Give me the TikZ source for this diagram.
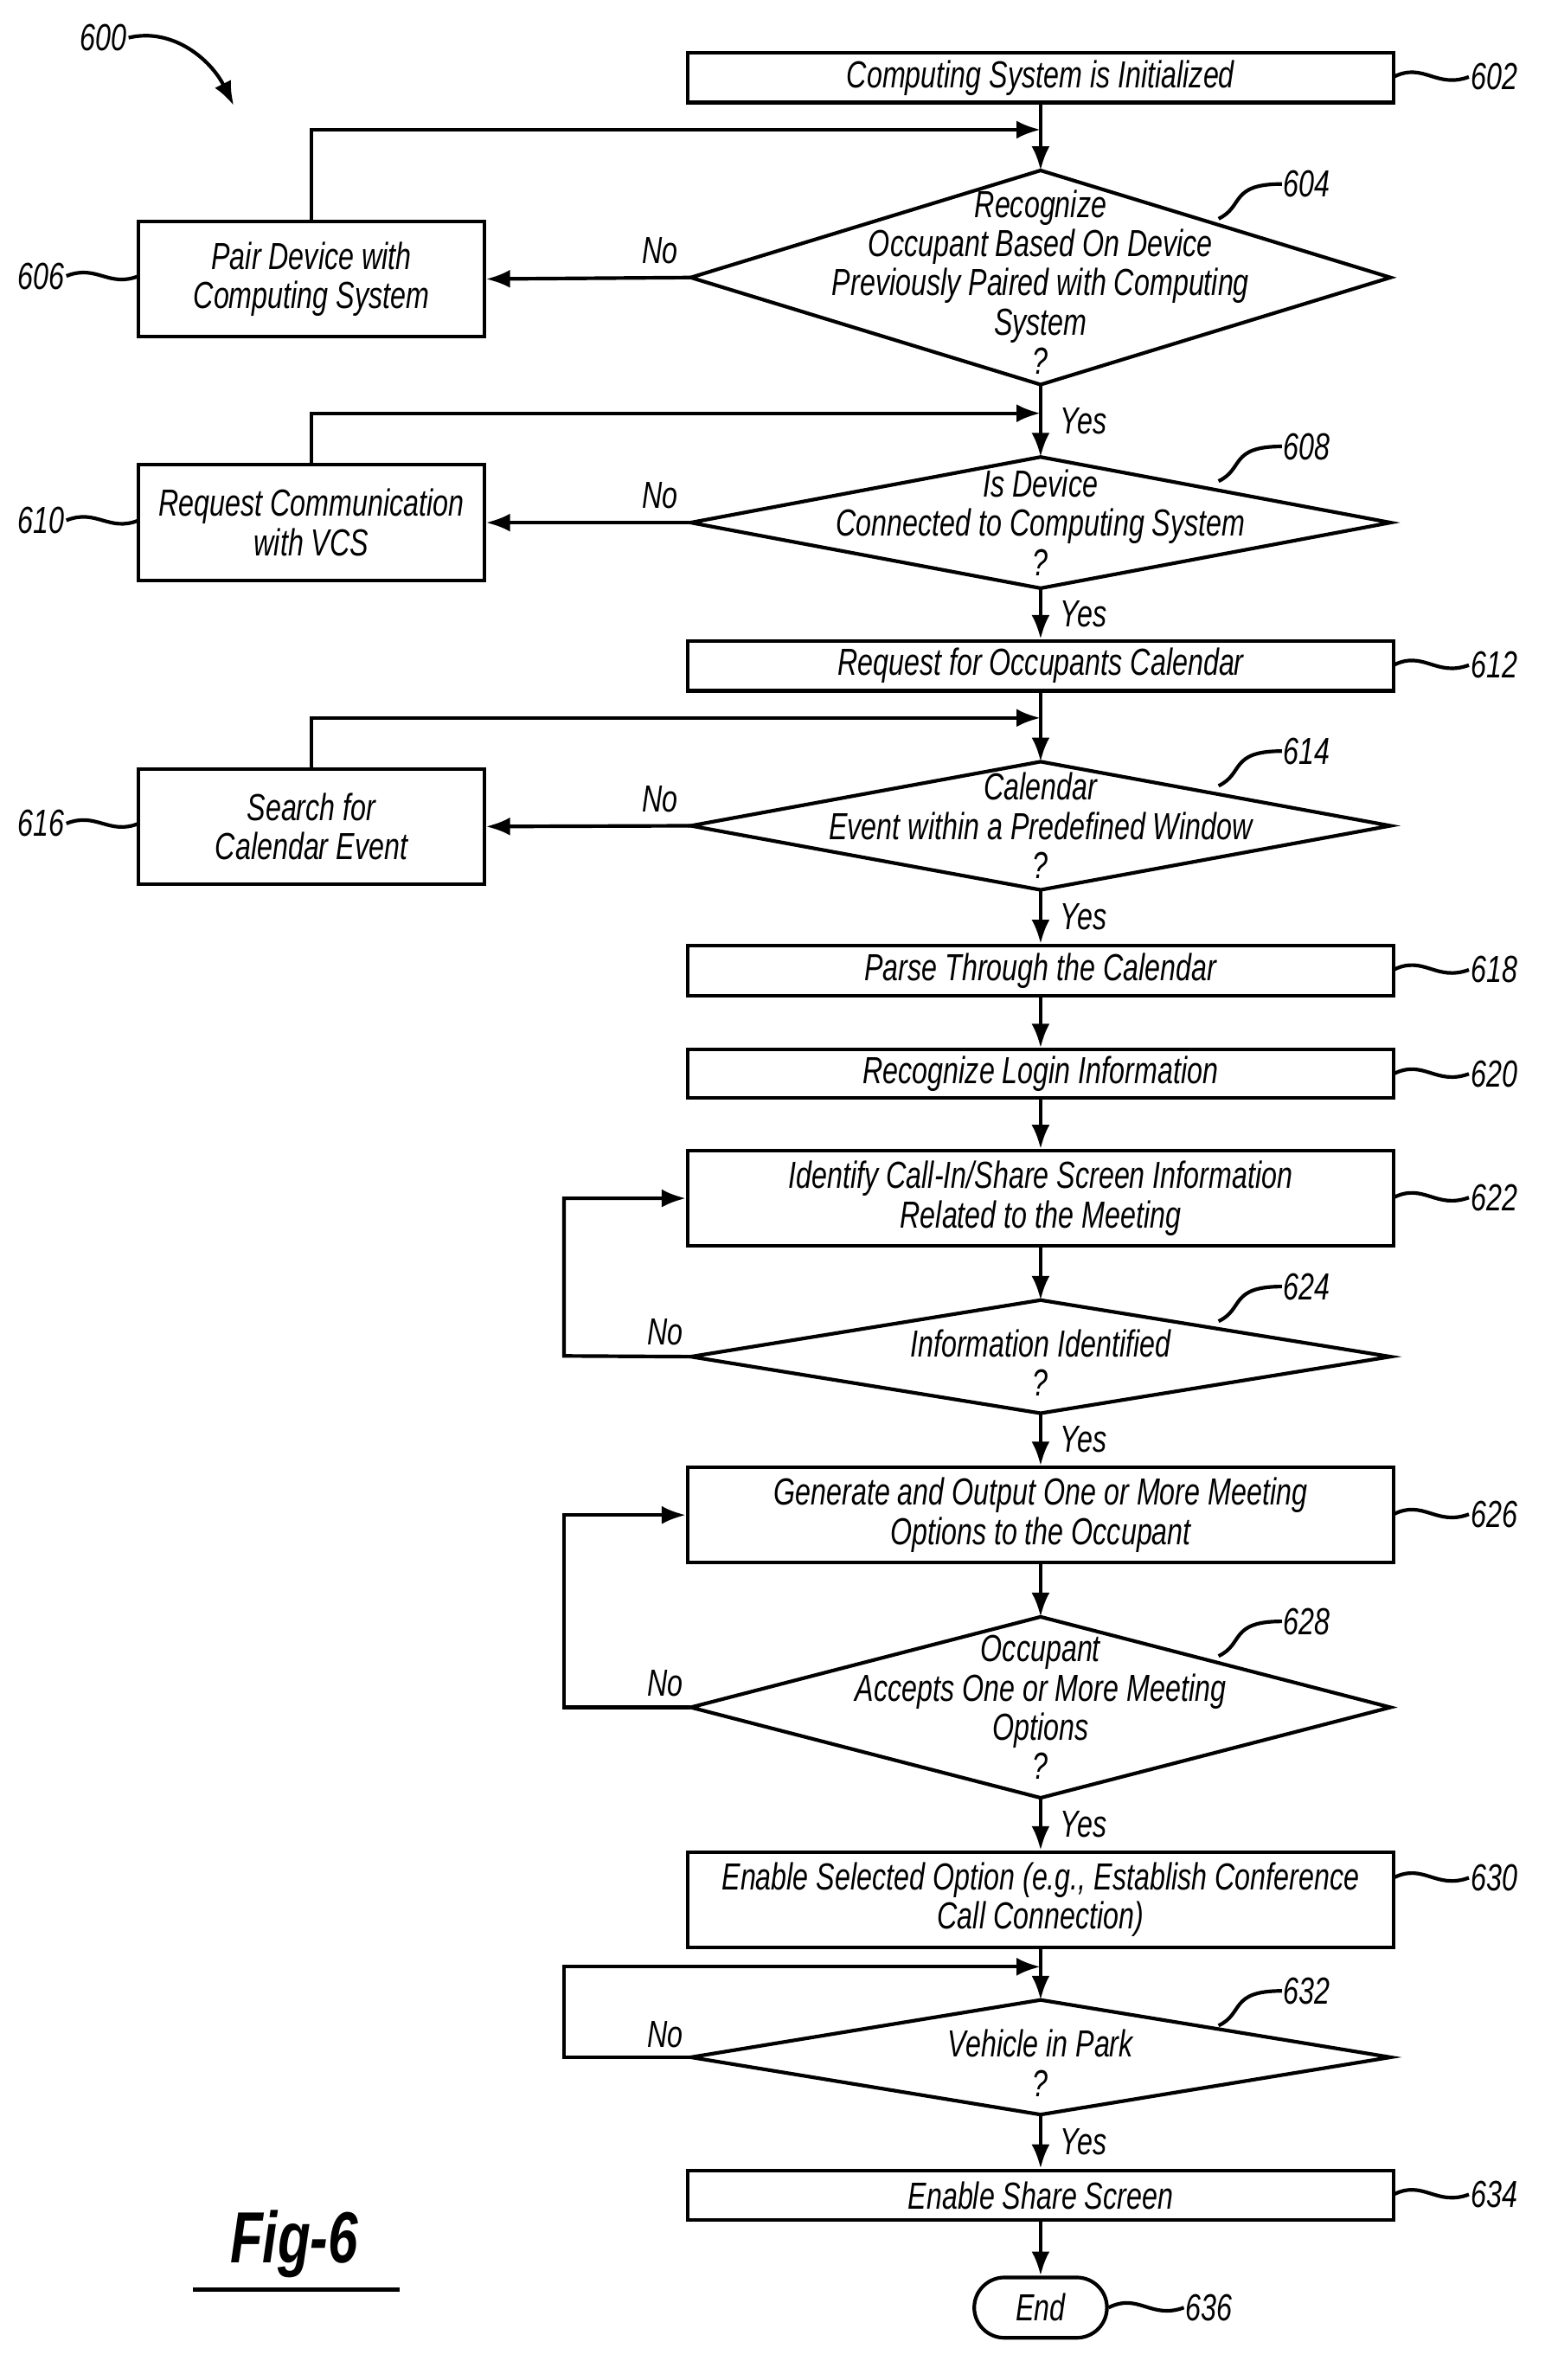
\documentclass[tikz,border=0pt]{standalone}
\usepackage{fontspec}
\setmainfont{Liberation Sans}[FakeStretch=0.74]
\usetikzlibrary{arrows.meta}
\begin{document}
\begin{tikzpicture}[x=0.5pt,y=-0.5pt,line width=1.2pt,
  every node/.style={font=\fontsize{12.5}{13}\selectfont\itshape,inner sep=0pt,align=center},
  box/.style={draw,rectangle},
  arr/.style={-{Latex[length=8pt,width=6pt]}},
  lab/.style={font=\fontsize{12.5}{13}\selectfont\itshape}]
\useasboundingbox (0,0) rectangle (1024,1578);
\newcommand{\mybox}[5]{\node[box,minimum width=#3*2 pt-0.5pt,minimum height=#4*0.5pt,anchor=north] (#1) at (690,#2) {#5};}
% main boxes
\node[box,minimum width=234pt,minimum height=16.5pt] (b602) at (690,51.5) {Computing System is Initialized};
\node[box,minimum width=234pt,minimum height=16.5pt] (b612) at (690,441.5) {Request for Occupants Calendar};
\node[box,minimum width=234pt,minimum height=16.5pt] (b618) at (690,643.5) {Parse Through the Calendar};
\node[box,minimum width=234pt,minimum height=16pt] (b620) at (690,712) {Recognize Login Information};
\node[box,minimum width=234pt,minimum height=31.5pt] (b622) at (690,794.5) {Identify Call-In/Share Screen Information\\Related to the Meeting};
\node[box,minimum width=234pt,minimum height=31.5pt] (b626) at (690,1004.5) {Generate and Output One or More Meeting\\Options to the Occupant};
\node[box,minimum width=234pt,minimum height=31.5pt] (b630) at (690,1259.5) {Enable Selected Option (e.g., Establish Conference\\Call Connection)};
\node[box,minimum width=234pt,minimum height=16.5pt] (b634) at (690,1455.5) {Enable Share Screen};
\node[draw,rounded corners=10pt,minimum width=44pt,minimum height=20pt] (b636) at (690,1530) {End};
% side boxes
\node[box,minimum width=114.5pt,minimum height=38pt] (b606) at (206.5,185) {Pair Device with\\Computing System};
\node[box,minimum width=114.5pt,minimum height=38.5pt] (b610) at (206.5,346.5) {Request Communication\\with VCS};
\node[box,minimum width=114.5pt,minimum height=38pt] (b616) at (206.5,548) {Search for\\Calendar Event};
% diamonds
\newcommand{\dia}[4]{%
 \coordinate (#1t) at (690,#2); \coordinate (#1b) at (690,#3);
 \coordinate (#1l) at (458,{(#2+#3)/2}); \coordinate (#1r) at (922,{(#2+#3)/2});
 \draw (#1t)--(#1r)--(#1b)--(#1l)--cycle;
 \node (#1) at (690,{(#2+#3)/2}) {#4};}
\dia{d604}{113}{255}{\\[-1pt]Recognize\\Occupant Based On Device\\Previously Paired with Computing\\System\\?}
\dia{d608}{303}{390}{Is Device\\Connected to Computing System\\?}
\dia{d614}{505}{590}{Calendar\\Event within a Predefined Window\\?}
\dia{d624}{862}{937}{\\Information Identified\\?}
\dia{d628}{1072}{1192}{Occupant\\Accepts One or More Meeting\\Options\\?}
\dia{d632}{1326}{1402}{\\Vehicle in Park\\?}
% flow
\draw[arr] (b602.south) -- (d604t);
\draw[arr] (d604l) -- (b606.east) node[pos=0.15,above=4pt,lab]{No};
\draw[arr] (b606.north) |- (690,86);
\draw[arr] (d604b) -- (d608t) node[pos=0.5,right=6pt,lab]{Yes};
\draw[arr] (d608l) -- (b610.east) node[pos=0.15,above=4pt,lab]{No};
\draw[arr] (b610.north) |- (690,274);
\draw[arr] (d608b) -- (b612.north) node[pos=0.5,right=6pt,lab]{Yes};
\draw[arr] (b612.south) -- (d614t);
\draw[arr] (d614l) -- (b616.east) node[pos=0.15,above=4pt,lab]{No};
\draw[arr] (b616.north) |- (690,476);
\draw[arr] (d614b) -- (b618.north) node[pos=0.5,right=6pt,lab]{Yes};
\draw[arr] (b618.south) -- (b620.north);
\draw[arr] (b620.south) -- (b622.north);
\draw[arr] (b622.south) -- (d624t);
\draw[arr] (d624l) -- (374,899) |- (b622.west);
\node[lab] at (441,883) {No};
\draw[arr] (d624b) -- (b626.north) node[pos=0.5,right=6pt,lab]{Yes};
\draw[arr] (b626.south) -- (d628t);
\draw[arr] (d628l) -- (374,1132) |- (b626.west);
\node[lab] at (441,1116) {No};
\draw[arr] (d628b) -- (b630.north) node[pos=0.5,right=6pt,lab]{Yes};
\draw[arr] (b630.south) -- (d632t);
\draw[arr] (d632l) -- (374,1364) |- (690,1304);
\node[lab] at (441,1349) {No};
\draw[arr] (d632b) -- (b634.north) node[pos=0.5,right=6pt,lab]{Yes};
\draw[arr] (b634.south) -- (b636.north);
% reference numerals
\newcommand{\refr}[3]{\node[lab,anchor=west] (n#3) at (#1+50,#2) {#3};
 \draw (#1,#2) .. controls (#1+20,#2-10) and (#1+28,#2+8) .. (n#3.west);}
\refr{924}{51}{602}
\refr{924}{441}{612}
\refr{924}{643}{618}
\refr{924}{712}{620}
\refr{924}{794}{622}
\refr{924}{1004}{626}
\refr{924}{1245}{630}
\refr{924}{1455}{634}
\refr{735}{1530}{636}
\newcommand{\refl}[3]{\node[lab,anchor=east] (n#3) at (#1-48,#2) {#3};
 \draw (#1,#2) .. controls (#1-20,#2+8) and (#1-28,#2-8) .. (n#3.east);}
\refl{92}{183}{606}
\refl{92}{345}{610}
\refl{92}{546}{616}
\newcommand{\refd}[3]{\node[lab,anchor=west] (n#3) at (850,#2) {#3};
 \draw (808,#2+23) .. controls (825,#2+15) and (815,#2) .. (n#3.west);}
\refd{0}{122}{604}
\refd{0}{296}{608}
\refd{0}{498}{614}
\refd{0}{853}{624}
\refd{0}{1075}{628}
\refd{0}{1320}{632}
\node[lab,anchor=west] (n600) at (52,25) {600};
\coordinate (a600) at (155,70);
\draw[arr] (n600.east) .. controls (115,18) and (140,40) .. (a600);
\node[font=\fontsize{24}{26}\selectfont\bfseries\itshape] (fig) at (195,1488) {Fig-6};
\draw[line width=1.6pt] (128,1518) -- (265,1518);
\end{tikzpicture}
\end{document}
